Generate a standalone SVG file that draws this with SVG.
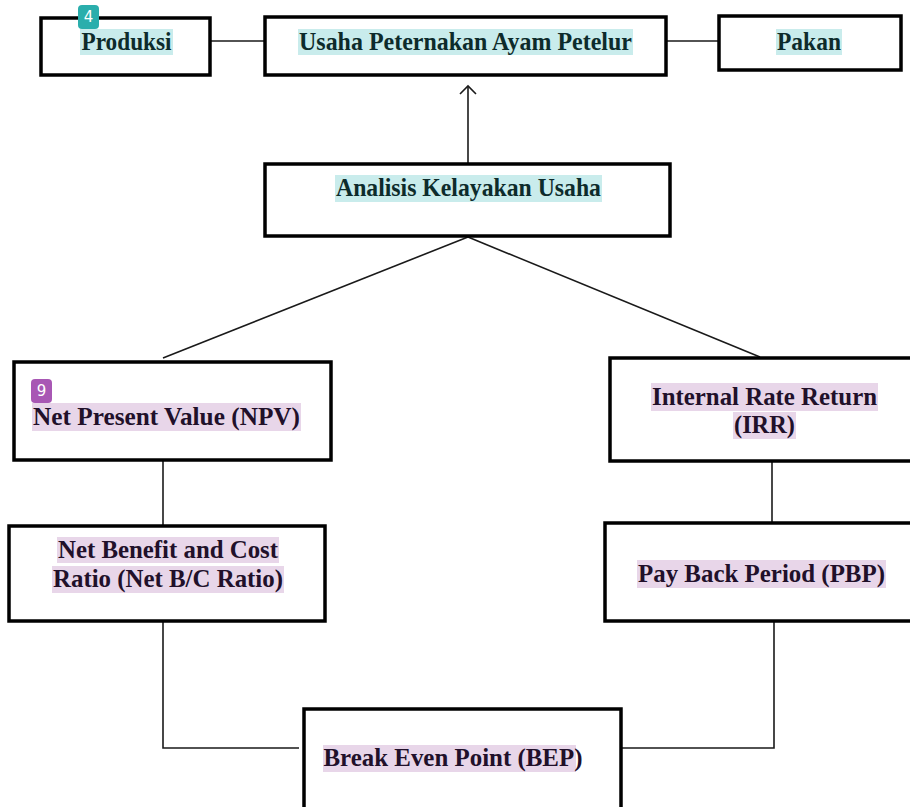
<svg xmlns="http://www.w3.org/2000/svg" width="910" height="807" viewBox="0 0 910 807">
<style>
.box{fill:#fff;stroke:#000;stroke-width:3.5}
.con{fill:none;stroke:#1a1a1a;stroke-width:1.6}
.t{font-family:'Liberation Serif','Times New Roman',Tinos,serif;font-weight:700;font-size:25px;text-anchor:middle}
.tc{fill:#0d2b2b}
.tp{fill:#21102a}
.hc{fill:#c9ecec}
.hp{fill:#e8d6e9}
.badge{font-family:'DejaVu Sans','Noto Sans',sans-serif;font-size:15px;fill:#fff;text-anchor:middle}
</style>
<defs>
<marker id="arr" viewBox="0 0 20 20" refX="10" refY="10" markerWidth="20" markerHeight="20" markerUnits="userSpaceOnUse" orient="auto">
<path d="M2,2 L10,10 L2,18" fill="none" stroke="#1a1a1a" stroke-width="1.6"/>
</marker>
</defs>
<rect width="910" height="807" fill="#fff"/>
<g id="connectors">
<line class="con" x1="211" y1="41" x2="264" y2="41"/>
<line class="con" x1="667" y1="41" x2="718" y2="41"/>
<line class="con" x1="468" y1="163" x2="468" y2="86" marker-end="url(#arr)"/>
<line class="con" x1="468" y1="237" x2="163" y2="358"/>
<line class="con" x1="468" y1="237" x2="760" y2="357"/>
<line class="con" x1="163" y1="460" x2="163" y2="525"/>
<line class="con" x1="772" y1="462" x2="772" y2="522"/>
<polyline class="con" points="163,622 163,748 299,748"/>
<polyline class="con" points="774,622 774,748 622,748"/>
</g>
<g id="produksi">
<rect class="box" x="41" y="18" width="169" height="57"/>
<rect class="hc" x="80" y="29" width="93" height="26"/>
<text class="t tc" x="126.5" y="50" textLength="90" lengthAdjust="spacingAndGlyphs">Produksi</text>
<rect x="78" y="5" width="21" height="24" rx="4" fill="#2aaeac"/>
<text class="badge" x="88.5" y="22">4</text>
</g>
<g id="usaha">
<rect class="box" x="265" y="17" width="401" height="58"/>
<rect class="hc" x="298" y="29" width="335" height="26"/>
<text class="t tc" x="465.5" y="50" textLength="333" lengthAdjust="spacingAndGlyphs">Usaha Peternakan Ayam Petelur</text>
</g>
<g id="pakan">
<rect class="box" x="719" y="16" width="182" height="54"/>
<rect class="hc" x="776" y="29" width="66" height="26"/>
<text class="t tc" x="809" y="50" textLength="64" lengthAdjust="spacingAndGlyphs">Pakan</text>
</g>
<g id="analisis">
<rect class="box" x="265" y="164" width="405" height="72"/>
<rect class="hc" x="335" y="175" width="267" height="27"/>
<text class="t tc" x="468.5" y="196" textLength="265" lengthAdjust="spacingAndGlyphs">Analisis Kelayakan Usaha</text>
</g>
<g id="npv">
<rect class="box" x="14" y="362" width="317" height="98"/>
<rect class="hp" x="32" y="403" width="269" height="28"/>
<text class="t tp" x="166.5" y="425" textLength="267" lengthAdjust="spacingAndGlyphs">Net Present Value (NPV)</text>
<rect x="31" y="379" width="21" height="24" rx="4" fill="#a857b4"/>
<text class="badge" x="41.5" y="396">9</text>
</g>
<g id="irr">
<rect class="box" x="610" y="358" width="310" height="103"/>
<rect class="hp" x="651" y="383" width="227" height="28"/>
<rect class="hp" x="733" y="412" width="63" height="27"/>
<text class="t tp" x="764.5" y="405" textLength="225" lengthAdjust="spacingAndGlyphs">Internal Rate Return</text>
<text class="t tp" x="764.5" y="433" textLength="61" lengthAdjust="spacingAndGlyphs">(IRR)</text>
</g>
<g id="nbc">
<rect class="box" x="9" y="526" width="316" height="95"/>
<rect class="hp" x="57" y="537" width="222" height="26"/>
<rect class="hp" x="52" y="566" width="232" height="27"/>
<text class="t tp" x="168" y="558" textLength="220" lengthAdjust="spacingAndGlyphs">Net Benefit and Cost</text>
<text class="t tp" x="168" y="587" textLength="230" lengthAdjust="spacingAndGlyphs">Ratio (Net B/C Ratio)</text>
</g>
<g id="pbp">
<rect class="box" x="605" y="523" width="315" height="98"/>
<rect class="hp" x="637" y="560" width="249" height="28"/>
<text class="t tp" x="761.5" y="582" textLength="247" lengthAdjust="spacingAndGlyphs">Pay Back Period (PBP)</text>
</g>
<g id="bep">
<rect class="box" x="304" y="709" width="317" height="110"/>
<rect class="hp" x="323" y="745" width="253" height="27"/>
<text class="t tp" x="453" y="766" textLength="259" lengthAdjust="spacingAndGlyphs">Break Even Point (BEP)</text>
</g>
</svg>
